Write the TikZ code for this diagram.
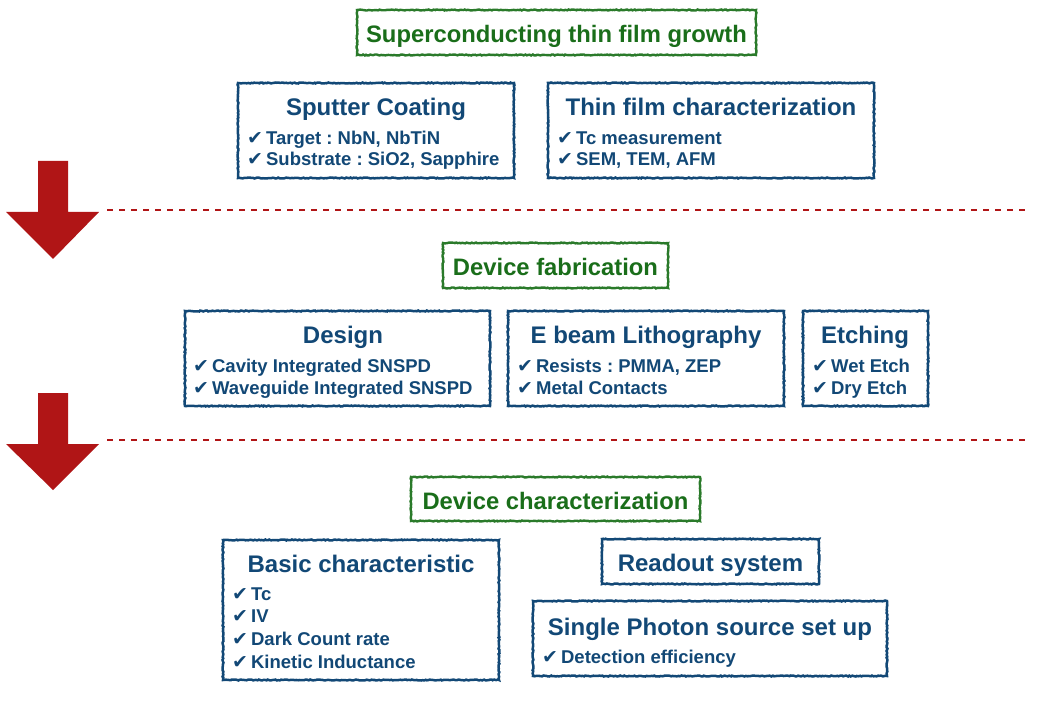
\documentclass[tikz,border=0pt]{standalone}
\usepackage{fontspec}
\setmainfont{Liberation Sans}
\newfontfamily\symfont{DejaVu Sans}
\usetikzlibrary{decorations.pathmorphing}
\definecolor{gtitle}{HTML}{1A6E1A}
\definecolor{gborder}{HTML}{2A7A2A}
\definecolor{bbox}{HTML}{124876}
\definecolor{rarrow}{HTML}{B01516}
\pgfmathsetseed{7}
\frenchspacing
\tikzset{
  sketch/.style={decorate,decoration={random steps,segment length=1.5pt,amplitude=0.5pt}},
  gbox/.style={draw=gborder,line width=2.4pt,sketch,fill=white,inner sep=0pt},
  bluebox/.style={draw=bbox,line width=2.5pt,sketch,fill=white,inner sep=0pt},
  gtext/.style={text=gtitle,font=\fontsize{23.8}{26}\selectfont\bfseries,inner sep=0pt,text height=17pt,text depth=5pt},
  head/.style={text=bbox,font=\fontsize{24}{26}\selectfont\bfseries,inner sep=0pt,text height=17pt,text depth=5pt},
  item/.style={text=bbox,font=\fontsize{18.5}{20}\selectfont\bfseries,inner sep=0pt,anchor=west,text height=13pt,text depth=4pt},
  sep/.style={draw=rarrow,line width=2.6pt,dash pattern=on 6pt off 6pt},
  bigarrow/.style={fill=rarrow,draw=none}
}
\newcommand{\ck}{{\symfont\fontsize{19}{20}\selectfont ✔}\hspace{3pt}}
\begin{document}
\begin{tikzpicture}[x=1pt,y=-1pt]
\useasboundingbox[fill=white] (0,0) rectangle (1039,703);
% separators
\coordinate (s1a) at (107,210); \coordinate (s1b) at (1026,210);
\coordinate (s2a) at (107,440); \coordinate (s2b) at (1026,440);
\draw[sep] (s1a) -- (s1b);
\draw[sep] (s2a) -- (s2b);
% arrows
\fill[bigarrow] (38,161) -- (68,161) -- (68,212) -- (99,212) -- (53,259) -- (6,212) -- (38,212) -- cycle;
\fill[bigarrow] (38,393) -- (68,393) -- (68,444) -- (99,444) -- (53,490) -- (6,444) -- (38,444) -- cycle;
% section 1
\draw[gbox] (357,10) rectangle (756,55);
\node[gtext] (t1) at (556.5,36.5) {Superconducting thin film growth};
\draw[bluebox] (238,83) rectangle (514,178);
\node[head] (sp) at (376,110) {Sputter Coating};
\node[item] (sp1) at (247,140) {\ck Target : NbN, NbTiN};
\node[item] (sp2) at (247,161) {\ck Substrate : SiO2, Sapphire};
\draw[bluebox] (548,83) rectangle (874,178);
\node[head] (tf) at (711,110) {Thin film characterization};
\node[item] (tf1) at (557,140) {\ck Tc measurement};
\node[item] (tf2) at (557,161) {\ck SEM, TEM, AFM};
% section 2
\draw[gbox] (443,243) rectangle (668,288);
\node[gtext] (t2) at (555.5,269.5) {Device fabrication};
\draw[bluebox] (185,311) rectangle (490,406);
\node[head] (de) at (343,338) {Design};
\node[item] (de1) at (193,368) {\ck Cavity Integrated SNSPD};
\node[item] (de2) at (193,390) {\ck Waveguide Integrated SNSPD};
\draw[bluebox] (508,311) rectangle (784,406);
\node[head] (eb) at (646,338) {E beam Lithography};
\node[item] (eb1) at (517,368) {\ck Resists : PMMA, ZEP};
\node[item] (eb2) at (517,390) {\ck Metal Contacts};
\draw[bluebox] (803,311) rectangle (928,406);
\node[head] (et) at (865,338) {Etching};
\node[item] (et1) at (812,368) {\ck Wet Etch};
\node[item] (et2) at (812,390) {\ck Dry Etch};
% section 3
\draw[gbox] (411,477) rectangle (700,521);
\node[gtext] (t3) at (555.5,503) {Device characterization};
\draw[bluebox] (223,540) rectangle (499,680);
\node[head] (bc) at (361,566) {Basic characteristic};
\node[item] (bc1) at (232,596) {\ck Tc};
\node[item] (bc2) at (232,618) {\ck IV};
\node[item] (bc3) at (232,641) {\ck Dark Count rate};
\node[item] (bc4) at (232,664) {\ck Kinetic Inductance};
\draw[bluebox] (602,539) rectangle (819,584);
\node[head] (ro) at (710.5,565.5) {Readout system};
\draw[bluebox] (533,601) rectangle (887,676);
\node[head] (ps) at (710,629) {Single Photon source set up};
\node[item] (ps1) at (542,659) {\ck Detection efficiency};
\end{tikzpicture}
\end{document}
